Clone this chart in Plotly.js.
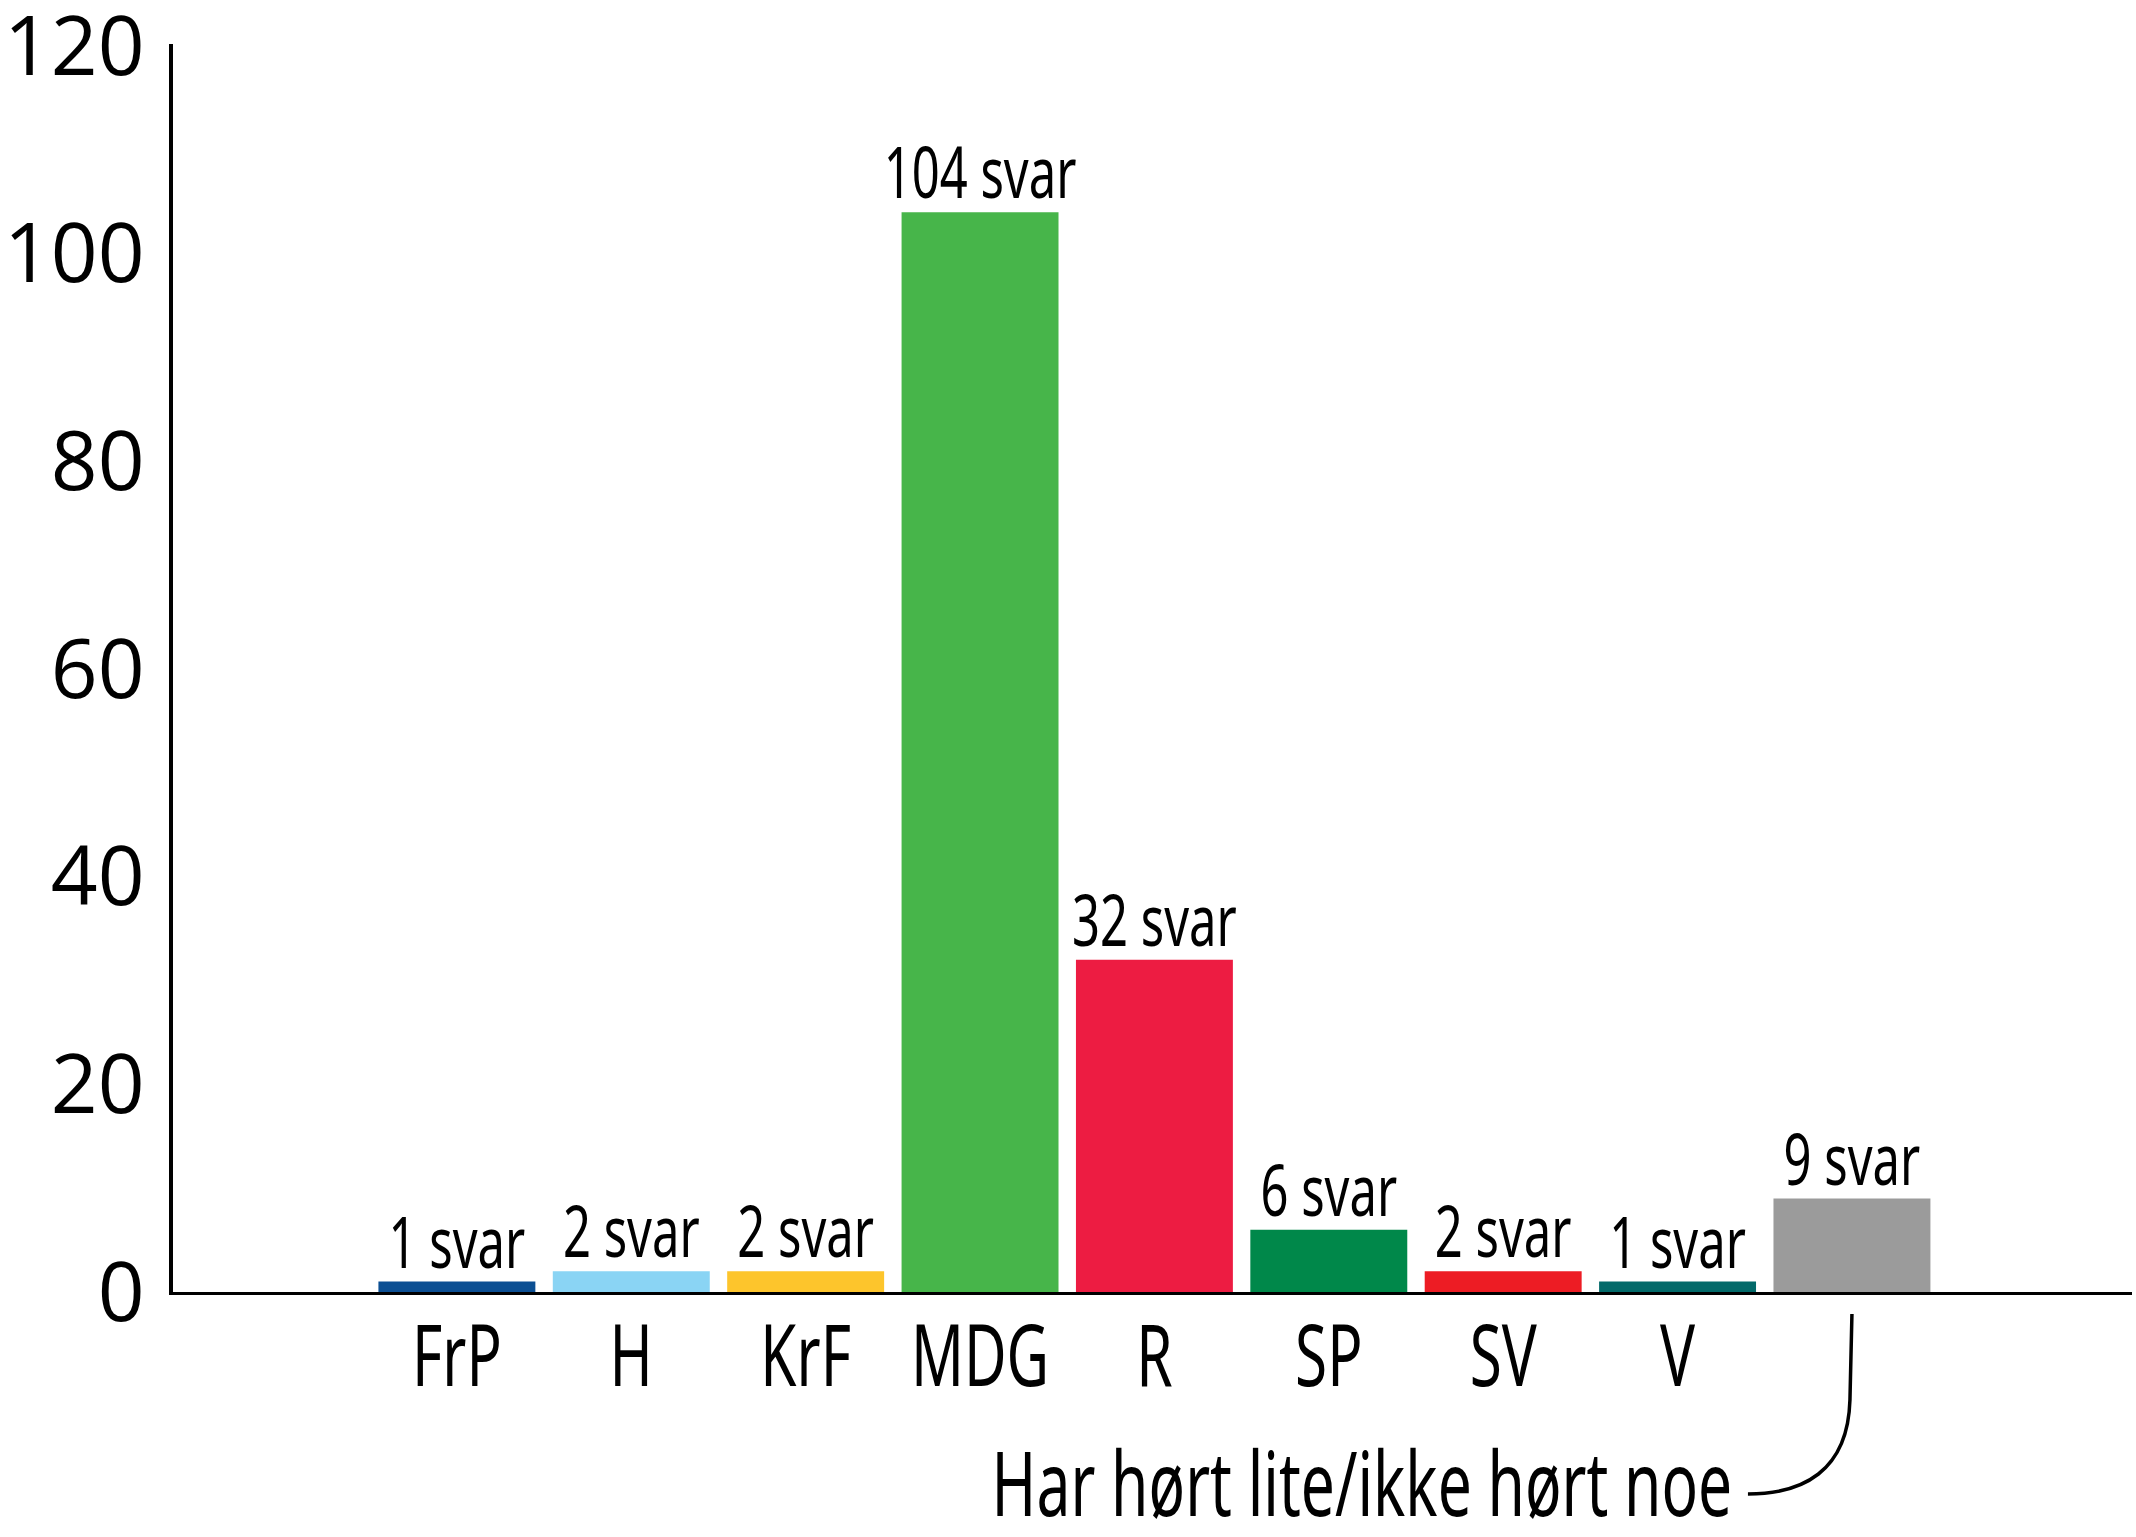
<!DOCTYPE html>
<html>
<head>
<meta charset="utf-8">
<script src="https://cdn.plot.ly/plotly-3.0.1.min.js"></script>
<style>
  html, body { margin: 0; padding: 0; background: #ffffff; }
  #chart { width: 2136px; height: 1537px; }
</style>
</head>
<body>
<div id="chart"></div>
<script>
// ---- data ----
const categories = ['FrP', 'H', 'KrF', 'MDG', 'R', 'SP', 'SV', 'V', 'Har hørt lite/ikke hørt noe'];
const answers = [1, 2, 2, 104, 32, 6, 2, 1, 9];
const tickLabels = ['FrP', 'H', 'KrF', 'MDG', 'R', 'SP', 'SV', 'V', ''];
const yTicks = [0, 20, 40, 60, 80, 100, 120];
const barColors = ['#0c4f93', '#8ad4f4', '#fdc52c', '#47b54a', '#ed1c42', '#00884a', '#ed1c24', '#036a6a', '#9b9b9b'];

const condensedBase = '"Noto Sans", "Open Sans", sans-serif';
const regular = '"Open Sans", "Noto Sans", sans-serif';
const squeeze = 0.68; // horizontal compression to mimic a condensed face

const W = 2136, H = 1537;
const M = { l: 173, r: 4, t: 44, b: 245 };
const plotW = W - M.l - M.r, plotH = H - M.t - M.b;

const xRange = [-1.628, 9.606];
const lastIdx = categories.length - 1;
const paperX = i => (i - xRange[0]) / (xRange[1] - xRange[0]);
const px2x = p => p / plotW;   // pixel offsets -> paper
const px2y = p => p / plotH;

const trace = {
  type: 'bar',
  x: categories,
  y: answers,
  marker: { color: barColors, line: { width: 0 } },
  text: answers.map(v => v + ' svar'),
  textposition: 'outside',
  constraintext: 'none',
  cliponaxis: false,
  textfont: { family: condensedBase, size: 72, color: '#000000' },
  hoverinfo: 'none'
};

// connector from last bar down to its label
const cx = paperX(lastIdx);
const y0 = -px2y(22), y1 = -px2y(108), y3 = -px2y(202);
const x3 = cx - px2x(104);
const connector = {
  type: 'path',
  xref: 'paper', yref: 'paper',
  path: `M ${cx} ${y0} L ${cx - px2x(2)} ${y1} C ${cx - px2x(4)} ${-px2y(180)}, ${cx - px2x(50)} ${y3}, ${x3} ${y3}`,
  line: { color: '#000000', width: 3.5 },
  fillcolor: 'rgba(0,0,0,0)'
};

const layout = {
  width: W,
  height: H,
  autosize: false,
  margin: { l: M.l, r: M.r, t: M.t, b: M.b, pad: 0 },
  paper_bgcolor: '#ffffff',
  plot_bgcolor: '#ffffff',
  showlegend: false,
  bargap: 0.10,
  xaxis: {
    type: 'category',
    range: xRange,
    tickmode: 'array',
    tickvals: categories,
    ticktext: tickLabels,
    showline: true,
    linecolor: '#000000',
    linewidth: 3,
    ticks: '',
    showgrid: false,
    zeroline: false,
    ticklabelstandoff: 0,
    tickfont: { family: condensedBase, size: 86, color: '#000000' },
    fixedrange: true
  },
  yaxis: {
    range: [0, 120.2],
    tickmode: 'array',
    tickvals: yTicks,
    showline: true,
    linecolor: '#000000',
    linewidth: 4,
    ticks: '',
    showgrid: false,
    zeroline: false,
    ticklabelstandoff: 8,
    ticklabeloverflow: 'allow',
    tickfont: { family: regular, size: 82, color: '#000000' },
    fixedrange: true
  },
  shapes: [connector],
  annotations: [{
    xref: 'paper', yref: 'paper',
    x: x3 - px2x(14), y: -px2y(190),
    xanchor: 'right', yanchor: 'middle',
    text: categories[lastIdx],
    showarrow: false,
    font: { family: condensedBase, size: 89, color: '#000000' }
  }]
};

// horizontally compress a text element around a pivot (anchor 'middle' or 'right'), optional vertical shift
function squeezeText(el, anchor, dy) {
  const bb = el.getBBox();
  const pivot = anchor === 'right' ? bb.x + bb.width : bb.x + bb.width / 2;
  const old = el.getAttribute('transform') || '';
  el.setAttribute('transform',
    `${old} translate(${pivot},${dy || 0}) scale(${squeeze},1) translate(${-pivot},0)`);
}

Plotly.newPlot('chart', [trace], layout, { staticPlot: true, displayModeBar: false }).then(gd => {
  gd.querySelectorAll('.bartext').forEach(t => squeezeText(t, 'middle', 10));
  gd.querySelectorAll('.xtick text').forEach(t => squeezeText(t, 'middle', -12));
  gd.querySelectorAll('.annotation-text').forEach(t => squeezeText(t, 'right', 0));
});
</script>
</body>
</html>
